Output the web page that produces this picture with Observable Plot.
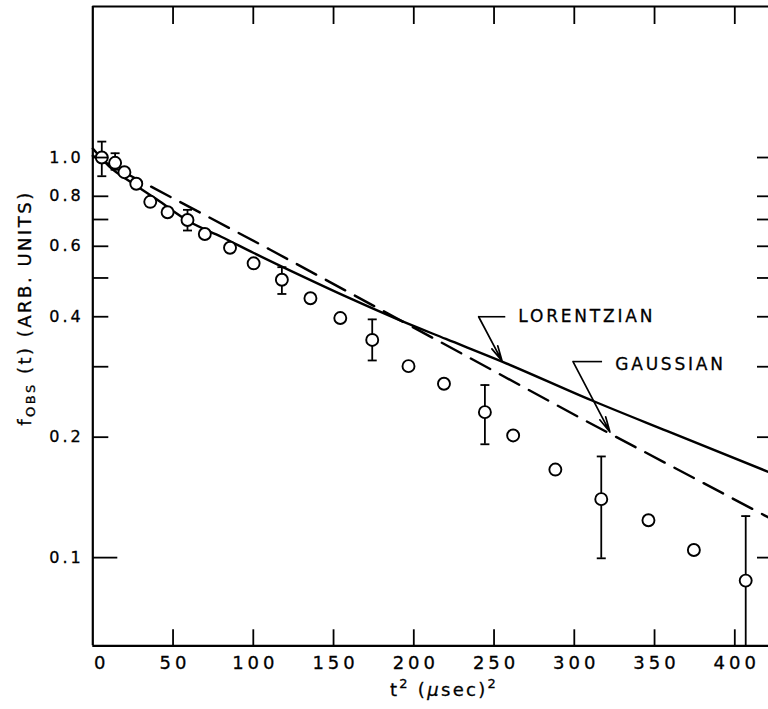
<!DOCTYPE html>
<html><head><meta charset="utf-8">
<script src="https://cdn.jsdelivr.net/npm/d3@7"></script>
<script src="https://cdn.jsdelivr.net/npm/@observablehq/plot@0.6"></script>
<style>
body{margin:0;background:#fff;}
#chart svg{font-family:"DejaVu Sans",sans-serif;background:#fff;}
#chart svg text{stroke:#000;stroke-width:0.3px;}
.ylab text{letter-spacing:3px}
.xlab text{letter-spacing:4px}
.anno text{letter-spacing:2.8px}
</style></head><body><div id="chart"></div>
<script>
// ---- data ----
const t2 = [5.6, 13.9, 19.7, 27.1, 35.8, 46.6, 59.0, 69.8, 85.5, 100.2, 117.8, 135.6, 154.2, 174.1, 196.7, 218.8, 244.3, 261.9, 288.2, 316.8, 346.2, 374.5, 406.8];
const fobs = [1.0, 0.970, 0.919, 0.860, 0.775, 0.730, 0.698, 0.644, 0.595, 0.544, 0.495, 0.445, 0.397, 0.350, 0.301, 0.272, 0.231, 0.202, 0.166, 0.140, 0.124, 0.1045, 0.0876];

const errT2 = [5.6, 13.9, 59.0, 117.8, 174.1, 244.3, 316.8, 406.8];
const errHi = [1.096, 1.025, 0.740, 0.532, 0.394, 0.270, 0.179, 0.127];
const errLo = [0.898, 0.932, 0.657, 0.456, 0.311, 0.192, 0.0996, 0.0602];

const lorT2 = [0, 10, 25, 40, 60, 80, 100, 130, 160, 190, 220, 255, 311, 358, 421];
const lorF  = [1.053, 0.952, 0.861, 0.785, 0.692, 0.634, 0.578, 0.506, 0.445, 0.394, 0.352, 0.309, 0.247, 0.207, 0.1637];

const gauT2 = [0, 110, 305, 421];
const gauF  = [1.01, 0.59, 0.222, 0.126];

const xDomain = [0, 421];
const yDomain = [0.0602, 2.385];
const xTicks = [0, 50, 100, 150, 200, 250, 300, 350, 400];
const xTickLabels = ["0", "50", "100", "150", "200", "250", "300", "350", "400"];
const yTicks = [0.1, 0.2, 0.3, 0.4, 0.5, 0.6, 0.7, 0.8, 1.0];
const yLabelValues = [0.1, 0.2, 0.4, 0.6, 0.8, 1.0];
const yTickLabels = ["0.1", "0.2", "0.4", "0.6", "0.8", "1.0"];

const annoNames = ["LORENTZIAN", "GAUSSIAN"];
const annoLabelT2 = [265.1, 325.5];
const annoLabelF = [0.40, 0.303];
const annoLeaderT2 = [257, 317.3];
const annoElbowT2 = [240.4, 299.2];
const annoElbowF = [0.40, 0.309];
const annoTipT2 = [255, 322.2];
const annoTipF = [0.31, 0.206];

// ---- tables ----
const points = t2.map((x, i) => ({x, y: fobs[i]}));
const errs = errT2.map((x, i) => ({x, lo: errLo[i], hi: errHi[i]}));
const caps = errs.flatMap(d => [{x: d.x, y: d.hi}, {x: d.x, y: d.lo}]).filter(d => d.y > yDomain[0]);
const lor = lorT2.map((x, i) => ({x, y: lorF[i]}));
const gau = gauT2.map((x, i) => ({x, y: gauF[i]}));
const anno = annoNames.map((name, i) => ({
  name, lx: annoLabelT2[i], ly: annoLabelF[i],
  x1: annoLeaderT2[i], x2: annoElbowT2[i], ey: annoElbowF[i],
  tx: annoTipT2[i], ty: annoTipF[i]
}));
const xLab = xTicks.map((v, i) => ({v, t: xTickLabels[i]}));
const yLab = yLabelValues.map((v, i) => ({v, t: yTickLabels[i]}));

// ---- layout ----
const W = 768, H = 709, mL = 92.3, mT = 6, mB = 709 - 645.3, mR = 0;
const plotH = H - mT - mB, plotW = W - mL - mR;

const capSymbol = {draw(ctx, size) { const w = Math.sqrt(size / Math.PI); ctx.moveTo(-w, 0); ctx.lineTo(w, 0); }};

const chart = Plot.plot({
  width: W, height: H,
  marginLeft: mL, marginRight: mR, marginTop: mT, marginBottom: mB,
  x: {domain: xDomain, axis: null},
  y: {type: "log", domain: yDomain, axis: null},
  marks: [
    Plot.line(gau, {x: "x", y: "y", stroke: "#000", strokeWidth: 2.4, strokeDasharray: "22,11"}),
    Plot.line(lor, {x: "x", y: "y", stroke: "#000", strokeWidth: 2.4, curve: "monotone-x"}),
    Plot.ruleX(errs, {x: "x", y1: "lo", y2: "hi", stroke: "#000", strokeWidth: 1.8}),
    Plot.dot(caps, {x: "x", y: "y", r: 4.5, symbol: capSymbol, stroke: "#000", fill: "none", strokeWidth: 1.8}),
    Plot.dot(points, {x: "x", y: "y", r: 6, stroke: "#000", fill: "#fff", strokeWidth: 1.9}),
    // annotations
    Plot.link(anno, {x1: "x1", y1: "ey", x2: "x2", y2: "ey", stroke: "#000", strokeWidth: 1.6}),
    Plot.arrow(anno, {x1: "x2", y1: "ey", x2: "tx", y2: "ty", stroke: "#000", strokeWidth: 1.7, headLength: 14, headAngle: 24}),
    Plot.text(anno, {x: "lx", y: "ly", text: "name", textAnchor: "start", fontSize: 17, fill: "#000", className: "anno"}),
    // frame (left, top, bottom)
    Plot.ruleX([xDomain[0]], {stroke: "#000", strokeWidth: 2.2}),
    Plot.ruleY([yDomain[0]], {stroke: "#000", strokeWidth: 2.2}),
    Plot.ruleY([yDomain[1]], {stroke: "#000", strokeWidth: 2.2}),
    // inward ticks
    Plot.tickX(xTicks.slice(1), {x: d => d, insetTop: plotH - 16, stroke: "#000", strokeWidth: 1.8}),
    Plot.tickX(xTicks.slice(1), {x: d => d, insetBottom: plotH - 18, stroke: "#000", strokeWidth: 1.8}),
    Plot.tickY(yTicks.filter(d => d !== 0.1), {y: d => d, insetRight: plotW - 16, stroke: "#000", strokeWidth: 1.8}),
    Plot.tickY([0.1], {y: d => d, insetRight: plotW - 25, stroke: "#000", strokeWidth: 1.8}),
    Plot.tickY(yTicks, {y: d => d, insetLeft: plotW - 11, stroke: "#000", strokeWidth: 1.8}),
    // tick labels
    Plot.text(xLab.filter(d => d.v !== 0), {x: "v", text: "t", frameAnchor: "bottom", lineAnchor: "top", dy: 10, dx: 2, fontSize: 18, fill: "#000", className: "xlab"}),
    Plot.text(xLab.filter(d => d.v === 0), {x: "v", text: "t", frameAnchor: "bottom", lineAnchor: "top", dy: 10, dx: 9, fontSize: 18, fill: "#000", className: "xlab"}),
    Plot.text(yLab, {y: "v", text: "t", frameAnchor: "left", textAnchor: "end", dx: -9, fontSize: 16, fill: "#000", className: "ylab"})
  ]
});

const svg = d3.select(chart);
// x axis title
const xt = svg.append("text")
  .attr("x", 444).attr("y", 696)
  .attr("text-anchor", "middle")
  .attr("font-size", 18).attr("fill", "#000")
  .style("letter-spacing", "2.3px");
xt.append("tspan").text("t");
xt.append("tspan").attr("font-size", 13).attr("dy", -8).text("2");
xt.append("tspan").attr("dy", 8).text(" (");
xt.append("tspan").attr("font-style", "italic").text("\u03bc");
xt.append("tspan").text("sec)");
xt.append("tspan").attr("font-size", 13).attr("dy", -8).text("2");

// y axis title
const yt = svg.append("text")
  .attr("transform", "translate(31,308) rotate(-90)")
  .attr("text-anchor", "middle")
  .attr("font-size", 18).attr("fill", "#000")
  .style("letter-spacing", "2.5px");
yt.append("tspan").text("f");
yt.append("tspan").attr("font-size", 13).attr("dy", 4).text("OBS");
yt.append("tspan").attr("dy", -4).text(" (t) (ARB. UNITS)");

document.getElementById("chart").appendChild(chart);
</script>
</body></html>
